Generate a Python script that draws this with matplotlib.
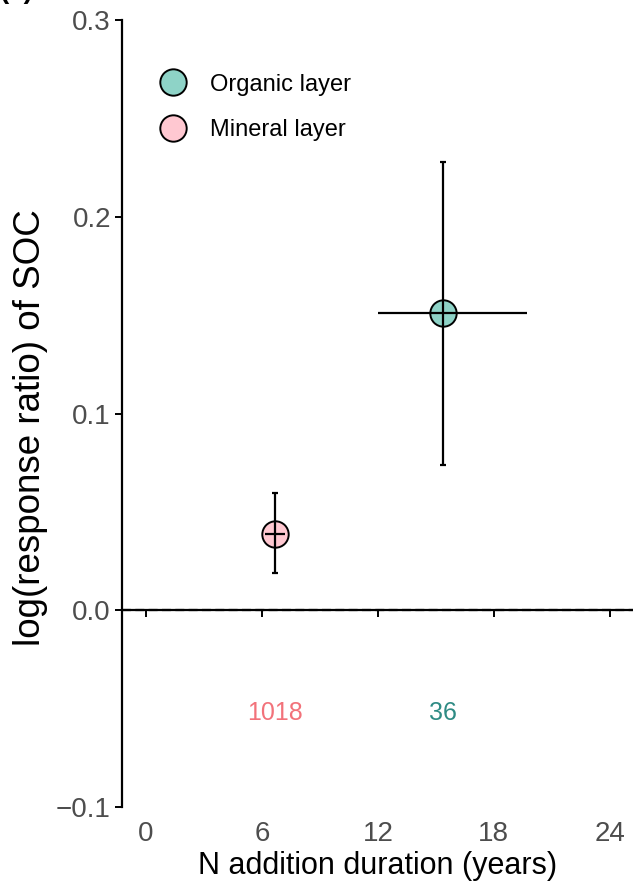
import matplotlib
matplotlib.use("Agg")
import matplotlib.pyplot as plt

plt.rcParams["font.family"] = ["Liberation Sans", "DejaVu Sans"]

# Layer-level effect sizes of N addition on soil organic carbon
layers = ["Organic layer", "Mineral layer"]
duration = [15.36, 6.67]
duration_lo = [12.0, 6.15]
duration_hi = [19.7, 7.19]
lnrr = [0.151, 0.039]
lnrr_lo = [0.0737, 0.0188]
lnrr_hi = [0.2278, 0.0595]
n_obs = ["36", "1018"]
fill_colors = ["#8ED3C7", "#FFC8D1"]
text_colors = ["#2E8B84", "#F2727A"]

x_ticks = [0, 6, 12, 18, 24]
y_ticks = [-0.1, 0.0, 0.1, 0.2, 0.3]
y_ticklabels = ["\u22120.1", "0.0", "0.1", "0.2", "0.3"]

W, H = 633, 881
fig = plt.figure(figsize=(W / 100, H / 100), dpi=100)
left, right = 122 / W, 1.0
bottom, top = (H - 807) / H, (H - 20) / H
ax = fig.add_axes([left, bottom, right - left, top - bottom])

ax.set_xlim(-1.24, 25.2)
ax.set_ylim(-0.1, 0.3)

# zero reference line
ax.axhline(0, color="black", lw=1.6, ls=(0, (4, 2)), zorder=1)

for i, name in enumerate(layers):
    ax.plot(duration[i], lnrr[i], "o", ms=19, mfc=fill_colors[i],
            mec="black", mew=1.4, zorder=3, label=name)
    # vertical bars with small caps, horizontal bars without caps
    ax.errorbar(duration[i], lnrr[i],
                yerr=[[lnrr[i] - lnrr_lo[i]], [lnrr_hi[i] - lnrr[i]]],
                fmt="none", ecolor="black", elinewidth=1.6, capsize=2.2,
                capthick=1.6, zorder=4)
    ax.errorbar(duration[i], lnrr[i],
                xerr=[[duration[i] - duration_lo[i]], [duration_hi[i] - duration[i]]],
                fmt="none", ecolor="black", elinewidth=1.6, capsize=0,
                zorder=4)
    ax.text(duration[i], -0.052, n_obs[i], color=text_colors[i],
            fontsize=18, ha="center", va="center")

# spines: y-axis on the left, x-axis line at y = 0
for s in ["top", "right"]:
    ax.spines[s].set_visible(False)
ax.spines["left"].set_linewidth(1.6)
ax.spines["bottom"].set_position(("data", 0))
ax.spines["bottom"].set_linewidth(1.6)
ax.set_xticks(x_ticks)
ax.set_yticks(y_ticks)
ax.set_yticklabels(y_ticklabels)
ax.tick_params(axis="y", direction="out", length=5, width=1.4,
               colors="black", labelcolor="#4D4D4D", labelsize=20, pad=3)
ax.tick_params(axis="x", direction="out", length=5, width=1.4,
               colors="black", labelbottom=False)

# tick labels below the plotting region
sec = ax.secondary_xaxis("bottom")
sec.set_xticks(x_ticks)
sec.spines["bottom"].set_visible(False)
sec.tick_params(length=0, labelsize=20, labelcolor="#4D4D4D", pad=10)
sec.set_xlabel("N addition duration (years)", fontsize=22, labelpad=3)

ax.set_ylabel("log(response ratio) of SOC", fontsize=26.5)
ax.yaxis.set_label_coords(-0.145, 0.482)

leg = ax.legend(loc="upper left", bbox_to_anchor=(0.053, 0.944), frameon=False,
                fontsize=17, handletextpad=1.0, handlelength=1.2,
                labelspacing=1.0, borderaxespad=0.0)

fig.text(0.0, 1 + 2 / H, "(a)", fontsize=20, fontweight="bold",
         ha="left", va="baseline")

fig.savefig("out.png", dpi=100)
